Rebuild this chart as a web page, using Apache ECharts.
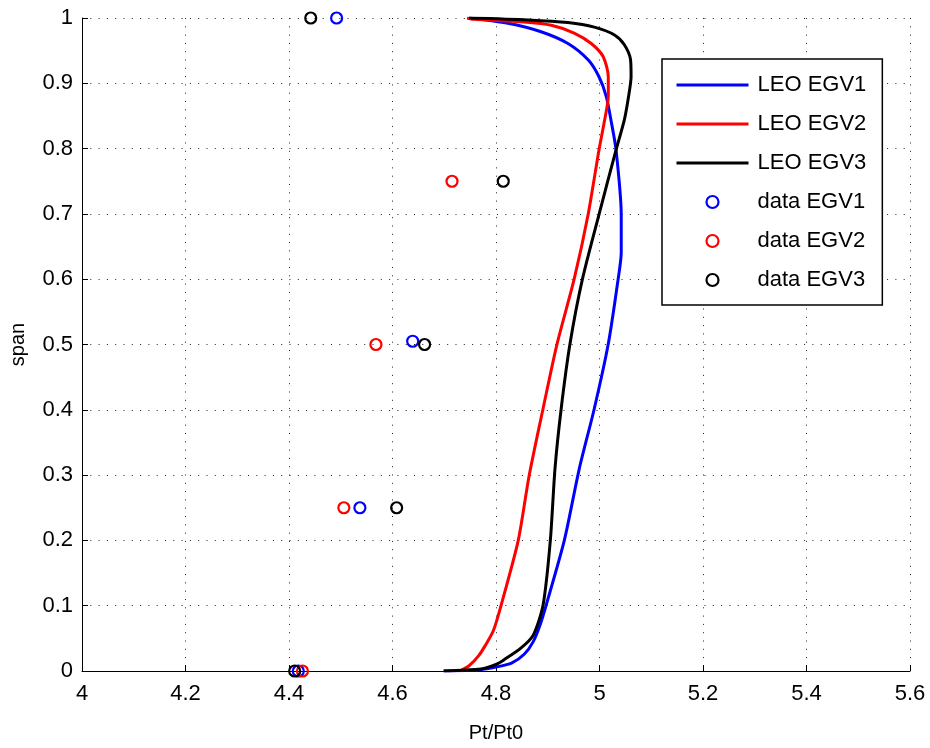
<!DOCTYPE html>
<html>
<head>
<meta charset="utf-8">
<script src="https://cdn.jsdelivr.net/npm/echarts@6/dist/echarts.min.js"></script>
<style>
html,body{margin:0;padding:0;background:#fff;}
#chart{width:930px;height:748px;}
</style>
</head>
<body>
<div id="chart"></div>
<script>
// ---- data (x = Pt/Pt0, y = span) ----
var leoEGV1 = [
  [4.699, 0.000], [4.770, 0.002], [4.800, 0.006], [4.830, 0.012], [4.855, 0.026],
  [4.872, 0.045], [4.885, 0.070], [4.897, 0.101], [4.932, 0.200], [4.961, 0.310],
  [4.990, 0.402], [5.017, 0.501], [5.036, 0.600], [5.042, 0.641], [5.042, 0.699],
  [5.032, 0.798], [5.023, 0.840], [5.013, 0.880], [4.999, 0.910], [4.978, 0.936],
  [4.939, 0.961], [4.887, 0.979], [4.823, 0.992], [4.748, 1.000]
];
var leoEGV2 = [
  [4.730, 0.000], [4.748, 0.008], [4.767, 0.024], [4.780, 0.040], [4.795, 0.062],
  [4.810, 0.101], [4.843, 0.200], [4.864, 0.299], [4.891, 0.402], [4.918, 0.501],
  [4.951, 0.600], [4.978, 0.699], [4.999, 0.798], [5.009, 0.840], [5.017, 0.880],
  [5.017, 0.910], [5.007, 0.941], [4.984, 0.961], [4.951, 0.977], [4.907, 0.989],
  [4.854, 0.994], [4.757, 0.998], [4.744, 1.000]
];
var leoEGV3 = [
  [4.699, 0.000], [4.771, 0.003], [4.800, 0.010], [4.815, 0.017], [4.848, 0.035],
  [4.872, 0.055], [4.891, 0.101], [4.905, 0.200], [4.914, 0.310], [4.926, 0.402],
  [4.943, 0.501], [4.967, 0.600], [4.999, 0.699], [5.032, 0.798], [5.048, 0.844],
  [5.056, 0.879], [5.061, 0.910], [5.060, 0.936], [5.048, 0.959], [5.029, 0.974],
  [4.990, 0.986], [4.939, 0.993], [4.862, 0.997], [4.748, 1.000]
];
var dataEGV1 = [[4.492, 1.0], [4.639, 0.505], [4.537, 0.25], [4.418, 0.0]];
var dataEGV2 = [[4.715, 0.75], [4.568, 0.5], [4.506, 0.25], [4.426, 0.0]];
var dataEGV3 = [[4.442, 1.0], [4.814, 0.75], [4.662, 0.5], [4.608, 0.25], [4.411, 0.0]];

var seriesNames = ['LEO EGV1', 'LEO EGV2', 'LEO EGV3', 'data EGV1', 'data EGV2', 'data EGV3'];
var seriesColors = ['#0000ff', '#ff0000', '#000000', '#0000ff', '#ff0000', '#000000'];

var FONT = '"Liberation Sans", Arial, Helvetica, sans-serif';
var chart = echarts.init(document.getElementById('chart'), null, {renderer: 'canvas'});

function lineSeries(name, data, color) {
  return {
    name: name, type: 'line', data: data, symbol: 'none', smooth: 0.25,
    lineStyle: {color: color, width: 3}, itemStyle: {color: color},
    animation: false
  };
}
function dotSeries(name, data, color) {
  return {
    name: name, type: 'scatter', data: data, symbol: 'circle', symbolSize: 11,
    itemStyle: {color: 'rgba(255,255,255,0)', borderColor: color, borderWidth: 2.2, opacity: 1},
    animation: false, z: 5
  };
}
function lineLegend(i) {
  return {name: seriesNames[i], itemStyle: {opacity: 0}, lineStyle: {color: seriesColors[i], width: 3}};
}
function dotLegend(i) {
  return {name: seriesNames[i], icon: 'circle',
    itemStyle: {color: 'rgba(255,255,255,0)', borderColor: seriesColors[i], borderWidth: 2.2, opacity: 1}};
}

var option = {
  backgroundColor: '#ffffff',
  animation: false,
  grid: {left: 82, right: 20, top: 18, bottom: 75, containLabel: false},
  xAxis: {
    type: 'value', min: 4, max: 5.6, interval: 0.2,
    name: 'Pt/Pt0', nameLocation: 'middle', nameGap: 52,
    nameTextStyle: {color: '#000', fontSize: 20, fontFamily: FONT},
    axisLine: {show: true, onZero: false, lineStyle: {color: '#000', width: 1}},
    axisTick: {show: true, inside: true, length: 6, lineStyle: {color: '#000'}},
    axisLabel: {color: '#000', fontSize: 22, fontFamily: FONT, margin: 12},
    splitLine: {show: true, lineStyle: {color: '#222', width: 1, type: [1, 7.3]}}
  },
  yAxis: {
    type: 'value', min: 0, max: 1, interval: 0.1,
    name: 'span', nameLocation: 'middle', nameGap: 54,
    nameTextStyle: {color: '#000', fontSize: 20, fontFamily: FONT},
    axisLine: {show: true, onZero: false, lineStyle: {color: '#000', width: 1}},
    axisTick: {show: true, inside: true, length: 6, lineStyle: {color: '#000'}},
    axisLabel: {color: '#000', fontSize: 22, fontFamily: FONT, margin: 9},
    splitLine: {show: true, lineStyle: {color: '#222', width: 1, type: [1, 7.3]}}
  },
  legend: {
    orient: 'vertical', left: 662, top: 59,
    padding: [14, 16, 13, 13],
    itemWidth: 72, itemHeight: 12, itemGap: 15,
    backgroundColor: '#fff', borderColor: '#000', borderWidth: 1.5,
    textStyle: {color: '#000', fontSize: 22, fontFamily: FONT, lineHeight: 24, padding: [0,0,0,4]},
    data: [lineLegend(0), lineLegend(1), lineLegend(2), dotLegend(3), dotLegend(4), dotLegend(5)]
  },
  series: [
    lineSeries(seriesNames[0], leoEGV1, seriesColors[0]),
    lineSeries(seriesNames[1], leoEGV2, seriesColors[1]),
    lineSeries(seriesNames[2], leoEGV3, seriesColors[2]),
    dotSeries(seriesNames[3], dataEGV1, seriesColors[3]),
    dotSeries(seriesNames[4], dataEGV2, seriesColors[4]),
    dotSeries(seriesNames[5], dataEGV3, seriesColors[5])
  ]
};
chart.setOption(option);
</script>
</body>
</html>
